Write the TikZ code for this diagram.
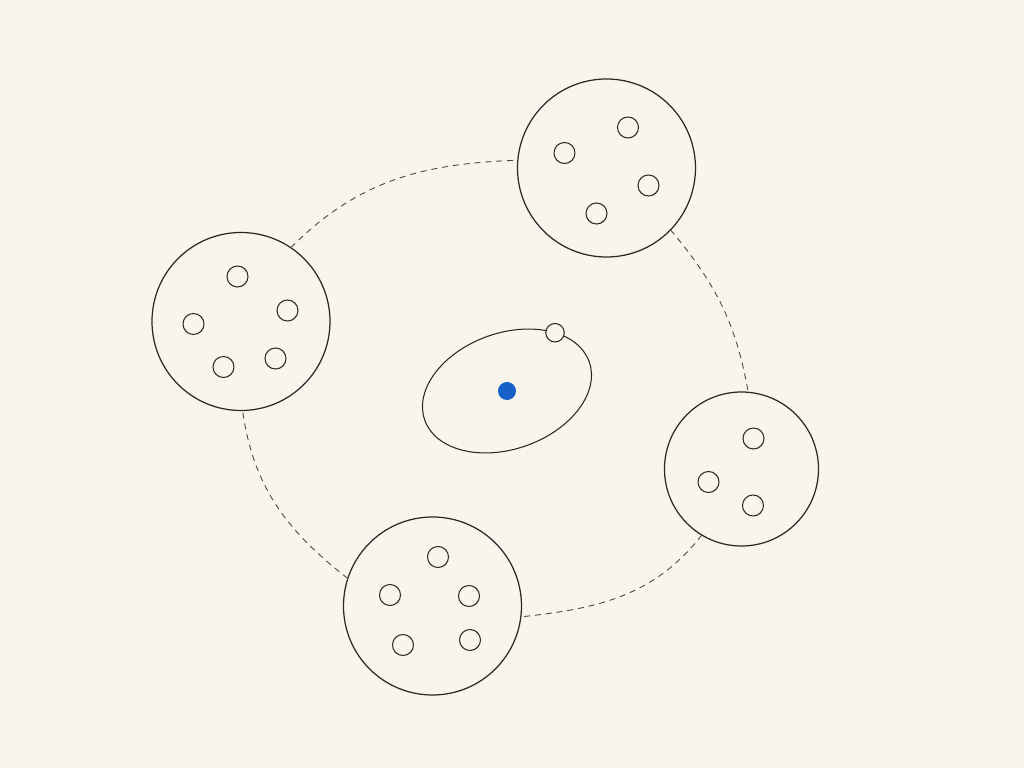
\documentclass[tikz,border=0pt]{standalone}
\usepackage{tikz}
\usetikzlibrary{shapes,positioning,calc}

\definecolor{papercream}{RGB}{249,245,236}
\definecolor{inkline}{RGB}{40,40,40}
\definecolor{dashgray}{RGB}{70,70,70}
\definecolor{coreblue}{RGB}{22,96,200}

\begin{document}
\begin{tikzpicture}[
    bigcell/.style={circle, draw=inkline, line width=0.7pt, fill=papercream,
                    minimum size=3.56cm, inner sep=0pt, outer sep=0pt},
    smallcell/.style={circle, draw=inkline, line width=0.6pt, fill=papercream,
                      minimum size=0.42cm, inner sep=0pt},
    ring/.style={draw=dashgray, line width=0.5pt, dash pattern=on 3.4pt off 2.8pt},
    orbit/.style={ellipse, draw=inkline, line width=0.6pt, minimum width=3.49cm,
                  minimum height=2.32cm, inner sep=0pt, outer sep=0pt, rotate=19.5}
]

% Background
\fill[papercream] (-10.24,-7.68) rectangle (10.24,7.68);
\useasboundingbox (-10.24,-7.68) rectangle (10.24,7.68);

% Outer cells
\node[bigcell] (cellA) at (-5.42, 1.25) {};
\node[bigcell] (cellB) at (1.89, 4.32) {};
\node[bigcell, minimum size=3.08cm] (cellC) at (4.59, -1.70) {};
\node[bigcell] (cellD) at (-1.59, -4.44) {};

% Dashed ring between the cells
\draw[ring] (cellA.56) to[out=45, in=182] (cellB.175);
\draw[ring] (cellB.-44) to[out=-50, in=100] (cellC.85);
\draw[ring] (cellC.-121) to[out=-128, in=6] (cellD.-7);
\draw[ring] (cellD.162) to[out=142, in=-82] (cellA.-89);

% Contents of the cells
\node[smallcell] (a1) at (-5.49, 2.15) {};
\node[smallcell] (a2) at (-4.49, 1.47) {};
\node[smallcell] (a3) at (-6.37, 1.20) {};
\node[smallcell] (a4) at (-5.77, 0.34) {};
\node[smallcell] (a5) at (-4.73, 0.51) {};

\node[smallcell] (b1) at (2.32, 5.13) {};
\node[smallcell] (b2) at (1.05, 4.62) {};
\node[smallcell] (b3) at (2.73, 3.97) {};
\node[smallcell] (b4) at (1.69, 3.41) {};

\node[smallcell] (c1) at (4.83, -1.09) {};
\node[smallcell] (c2) at (3.93, -1.96) {};
\node[smallcell] (c3) at (4.82, -2.43) {};

\node[smallcell] (d1) at (-1.48, -3.46) {};
\node[smallcell] (d2) at (-2.44, -4.22) {};
\node[smallcell] (d3) at (-0.86, -4.24) {};
\node[smallcell] (d4) at (-2.18, -5.22) {};
\node[smallcell] (d5) at (-0.84, -5.12) {};

% Centre: orbit, core and satellite
\node[orbit] (path) at (-0.10, -0.14) {};
\node[circle, fill=coreblue, minimum size=0.36cm, inner sep=0pt] (core) at (-0.10, -0.14) {};
\node[smallcell, minimum size=0.37cm] (sat) at (path.31) {};

\end{tikzpicture}
\end{document}
